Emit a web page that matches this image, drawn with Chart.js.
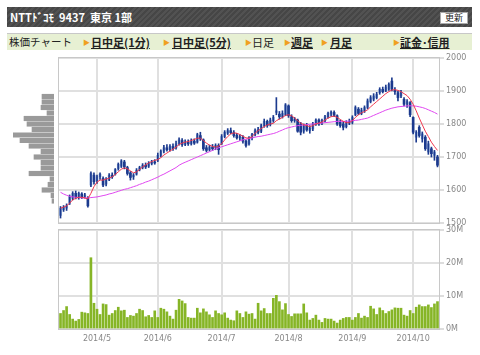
<!DOCTYPE html>
<html>
<head>
<meta charset="utf-8">
<script src="https://cdn.jsdelivr.net/npm/chart.js@4/dist/chart.umd.min.js"></script>
<style>
body { margin: 0; background: #fff; width: 480px; height: 355px; overflow: hidden; position: relative; font-family: "Noto Sans CJK JP", sans-serif; }
#head { position: absolute; left: 7px; top: 7px; width: 465px; height: 20px; background: repeating-linear-gradient(135deg, #464646 0 2px, #525252 2px 4px); color: #fff; font-size: 11px; font-weight: bold; line-height: 20px; }
#head .name { position: absolute; left: 3px; top: 0; }
#btn { position: absolute; left: 433px; top: 5px; width: 26px; height: 10px; background: #fff; color: #222; border: 1px solid #aaa; font-size: 9px; line-height: 10px; text-align: center; font-weight: normal; }
#tabs { position: absolute; left: 7px; top: 33px; width: 465px; height: 16px; background: #e7f0d3; border-top: 1px solid #c8c8c8; font-size: 11px; line-height: 16px; color: #222; }
.t { position: absolute; top: 0; white-space: nowrap; }
.t b { text-decoration: underline; }
.a { position: absolute; top: 0; color: #f0a020; font-size: 7px; }
canvas { position: absolute; left: 0; top: 0; }
</style>
</head>
<body>
<div id="head"><span class="name">NTTﾄﾞｺﾓ&nbsp; 9437&nbsp; 東京 1部</span><div id="btn">更新</div></div>
<div id="tabs">
  <span class="t" style="left:2px;font-size:10.5px">株価チャート</span>
  <span class="a" style="left:76px">▶</span><span class="t" style="left:84px"><b>日中足(1分)</b></span>
  <span class="a" style="left:156px">▶</span><span class="t" style="left:165px"><b>日中足(5分)</b></span>
  <span class="a" style="left:238px">▶</span><span class="t" style="left:245px">日足</span>
  <span class="a" style="left:277px">▶</span><span class="t" style="left:284px"><b>週足</b></span>
  <span class="a" style="left:314px">▶</span><span class="t" style="left:323px"><b>月足</b></span>
  <span class="a" style="left:386px">▶</span><span class="t" style="left:393px"><b>証金･信用</b></span>
</div>
<canvas id="vp" width="480" height="355"></canvas>
<canvas id="price" width="480" height="355"></canvas>
<canvas id="vol" width="480" height="355"></canvas>
<script>
// trading days, 2014/4/14 - 2014/10/14
const months = ['2014/4', '2014/5', '2014/6', '2014/7', '2014/8', '2014/9', '2014/10'];
const days = [
  [14, 15, 16, 17, 18, 21, 22, 23, 24, 25, 28, 30],
  [1, 2, 7, 8, 9, 12, 13, 14, 15, 16, 19, 20, 21, 22, 23, 26, 27, 28, 29, 30],
  [2, 3, 4, 5, 6, 9, 10, 11, 12, 13, 16, 17, 18, 19, 20, 23, 24, 25, 26, 27, 30],
  [1, 2, 3, 4, 7, 8, 9, 10, 11, 14, 15, 16, 17, 18, 22, 23, 24, 25, 28, 29, 30, 31],
  [1, 4, 5, 6, 7, 8, 11, 12, 13, 14, 15, 18, 19, 20, 21, 22, 25, 26, 27, 28, 29],
  [1, 2, 3, 4, 5, 8, 9, 10, 11, 12, 16, 17, 18, 19, 22, 24, 25, 26, 29, 30],
  [1, 2, 3, 6, 7, 8, 9, 10, 14],
];

const opens = [1523,1540,1545,1560,1575,1590,1578,1588,1580,1575,
  1615,1645,1628,1640,1635,1618,1632,1645,1648,1665,
  1672,1685,1668,1652,1640,1648,1662,1668,1675,1672,
  1680,1685,1690,1705,1718,1728,1722,1732,1728,1740,
  1750,1738,1745,1740,1748,1745,1765,1752,1728,1722,
  1730,1728,1735,1740,1762,1772,1780,1774,1766,1758,
  1760,1748,1740,1758,1768,1782,1778,1795,1808,1798,
  1810,1835,1830,1822,1828,1855,1822,1810,1812,1800,
  1778,1795,1780,1785,1800,1812,1802,1810,1822,1830,
  1835,1825,1805,1800,1792,1802,1805,1828,1845,1832,
  1840,1850,1868,1875,1880,1895,1905,1900,1905,1930,
  1902,1895,1885,1875,1860,1865,1820,1760,1790,1755,
  1760,1715,1725,1705,1700];
const highs = [1550,1553,1558,1585,1595,1597,1594,1592,1590,1580,
  1655,1652,1645,1652,1640,1638,1650,1652,1665,1682,
  1692,1690,1672,1656,1650,1665,1672,1680,1682,1686,
  1690,1692,1712,1722,1735,1738,1738,1740,1748,1758,
  1756,1752,1752,1755,1755,1772,1775,1755,1735,1736,
  1738,1740,1740,1768,1780,1786,1788,1780,1772,1768,
  1765,1752,1762,1772,1785,1790,1800,1815,1812,1818,
  1826,1880,1838,1840,1862,1858,1828,1820,1815,1805,
  1800,1802,1795,1805,1816,1816,1815,1826,1836,1840,
  1840,1828,1812,1808,1810,1815,1825,1855,1850,1848,
  1855,1876,1886,1892,1896,1910,1912,1918,1925,1940,
  1910,1900,1902,1880,1874,1868,1822,1780,1795,1776,
  1765,1748,1730,1720,1705];
const lows = [1515,1535,1538,1556,1570,1573,1572,1574,1575,1548,
  1610,1618,1620,1632,1610,1612,1628,1635,1645,1660,
  1668,1664,1645,1630,1632,1645,1658,1664,1665,1668,
  1676,1678,1686,1700,1712,1718,1718,1720,1724,1736,
  1732,1734,1735,1736,1738,1742,1750,1720,1715,1718,
  1720,1722,1708,1738,1758,1768,1770,1760,1754,1750,
  1742,1730,1736,1752,1764,1770,1774,1790,1790,1794,
  1805,1828,1815,1818,1825,1820,1805,1805,1775,1767,
  1772,1778,1772,1780,1796,1796,1798,1806,1818,1824,
  1822,1796,1790,1782,1788,1798,1800,1825,1828,1828,
  1835,1846,1864,1870,1876,1890,1894,1898,1902,1900,
  1890,1870,1880,1855,1850,1822,1770,1745,1760,1745,
  1720,1708,1700,1690,1670];
const closes = [1545,1548,1552,1580,1590,1578,1590,1578,1585,1552,
  1650,1625,1640,1648,1615,1632,1645,1640,1662,1678,
  1688,1670,1650,1638,1645,1660,1668,1675,1670,1680,
  1685,1682,1705,1718,1728,1722,1732,1726,1740,1752,
  1738,1745,1740,1748,1742,1768,1755,1725,1720,1730,
  1725,1735,1722,1762,1775,1780,1774,1765,1758,1762,
  1748,1735,1758,1768,1780,1775,1795,1808,1795,1812,
  1820,1840,1822,1832,1858,1825,1810,1815,1778,1775,
  1795,1782,1788,1800,1812,1800,1810,1822,1832,1836,
  1826,1800,1795,1790,1805,1808,1820,1850,1832,1842,
  1850,1870,1880,1885,1890,1905,1898,1912,1920,1905,
  1898,1880,1895,1860,1868,1828,1775,1775,1765,1770,
  1725,1740,1710,1715,1675];

// short (red) and long (magenta) moving averages as drawn
const maShort = [1545,1548,1552,1560,1570,1575,1578,1578,1576,1573,
  1590,1610,1624,1630,1630,1633,1636,1640,1647,1655,
  1663,1667,1664,1658,1652,1655,1662,1670,1676,1682,
  1686,1690,1692,1698,1706,1712,1718,1724,1730,1738,
  1742,1745,1747,1750,1753,1757,1757,1750,1742,1736,
  1732,1730,1733,1740,1752,1762,1770,1773,1772,1768,
  1763,1758,1757,1762,1772,1780,1786,1792,1797,1800,
  1802,1810,1815,1820,1826,1828,1825,1818,1810,1803,
  1798,1795,1792,1795,1800,1803,1806,1812,1818,1822,
  1824,1820,1814,1808,1804,1804,1810,1820,1828,1834,
  1838,1843,1852,1860,1868,1876,1884,1892,1898,1903,
  1904,1902,1898,1892,1886,1875,1860,1840,1818,1798,
  1778,1762,1745,1732,1720];
const maLong = [1593,1588,1584,1581,1579,1578,1577,1576,1576,1576,
  1577,1578,1579,1581,1583,1585,1588,1590,1593,1596,
  1599,1602,1604,1607,1610,1613,1617,1620,1624,1627,
  1631,1635,1639,1644,1648,1653,1658,1663,1668,1675,
  1680,1684,1688,1692,1696,1700,1704,1708,1712,1716,
  1720,1724,1728,1731,1734,1737,1740,1743,1746,1749,
  1752,1754,1756,1758,1760,1762,1763,1765,1767,1769,
  1771,1774,1778,1782,1786,1789,1791,1793,1795,1796,
  1797,1798,1799,1800,1801,1802,1803,1804,1805,1806,
  1807,1808,1808,1808,1808,1809,1810,1811,1812,1814,
  1816,1818,1822,1826,1830,1834,1838,1842,1845,1848,
  1850,1852,1853,1854,1855,1855,1855,1854,1852,1850,
  1847,1843,1839,1835,1830];

// volume, millions of shares
const volumes = [4.7,5.6,6.8,4.4,3.0,2.4,2.9,5.1,4.9,4.7,
  21.6,7.8,6.0,4.4,7.6,7.4,4.2,4.7,5.6,6.6,
  5.5,5.7,3.5,4.1,3.9,4.7,6.0,5.6,3.7,4.1,
  3.5,5.5,3.5,6.3,6.0,5.2,3.9,3.0,5.7,9.0,
  8.5,7.7,3.5,3.3,3.3,6.3,4.9,6.1,5.2,4.3,
  3.5,5.5,4.7,4.3,4.9,3.3,2.7,2.5,5.5,4.7,
  3.5,5.2,4.5,4.7,3.0,7.8,5.5,6.2,4.7,4.7,
  9.3,10.2,8.3,5.8,7.7,4.4,3.8,4.6,4.6,4.6,
  7.6,4.9,2.7,3.2,4.2,2.7,2.0,3.2,3.0,3.0,
  2.4,1.8,2.7,3.2,3.5,3.5,2.7,3.5,4.7,3.3,
  3.9,3.5,6.9,6.1,4.4,6.4,5.6,4.7,5.3,5.8,
  6.4,6.3,6.3,4.2,3.9,5.6,4.7,6.6,7.3,6.8,
  6.8,7.3,6.5,7.6,8.3];

// volume by price band (left histogram)
const vpPrices = [1910,1890,1870,1850,1830,1810,1790,1770,1750,1730,1710,1690,1670,1650,1630,1610,1590,1570,1550,1530];
const vpVolumes = [12,12,13,7,30,27,22,41,34,25,13,20,13,13,25,4,6,12,3,2];

const priceTicks = [1500, 1600, 1700, 1800, 1900, 2000];
const volTicks = [0, 10, 20, 30];

// build labels
const labels = [];
const monthStart = [];
months.forEach((m, k) => {
  days[k].forEach((d, j) => {
    labels.push(m + '/' + d);
    monthStart.push(j === 0 && k > 0 ? m : '');
  });
});

const wicks = lows.map((l, i) => [l, highs[i]]);
const bodies = opens.map((o, i) => [Math.min(o, closes[i]), Math.max(o, closes[i])]);
const bodyFill = opens.map((o, i) => closes[i] >= o ? '#7f9ed4' : '#1c3a8e');

const gridColor = '#e0e0e0';
const tickFont = {family: 'DejaVu Sans', size: 8};
const tickColor = '#888';

const frame = {
  id: 'frame',
  beforeDatasetsDraw(chart) {
    const a = chart.chartArea;
    const g = chart.ctx;
    g.save();
    g.strokeStyle = '#c8c8c8';
    g.lineWidth = 1;
    g.strokeRect(a.left - 0.5, a.top - 0.5, a.width + 1, a.height + 1);
    g.restore();
  },
};

const monthGrid = {
  offset: false,
  drawTicks: false,
  lineWidth: 2,
  color: (c) => monthStart[c.index] ? gridColor : 'rgba(0,0,0,0)',
};

new Chart(document.getElementById('price'), {
  type: 'bar',
  data: {
    labels,
    datasets: [
      {type: 'line', data: maShort, borderColor: '#f0384e', borderWidth: 1, pointRadius: 0},
      {type: 'line', data: maLong, borderColor: '#e048f0', borderWidth: 1, pointRadius: 0},
      {data: wicks, backgroundColor: '#1c3a8e', barThickness: 1, grouped: false},
      {data: bodies, backgroundColor: bodyFill, barThickness: 2, grouped: false, minBarLength: 1},
    ],
  },
  options: {
    responsive: false,
    animation: false,
    layout: {padding: {left: 59, top: 58, bottom: 132, right: 0}},
    plugins: {legend: {display: false}, tooltip: {enabled: false}},
    scales: {
      x: {
        ticks: {display: false, autoSkip: false},
        grid: monthGrid,
        border: {display: false},
        afterFit: (s) => { s.height = 0; },
      },
      y: {
        position: 'right',
        min: 1500,
        max: 2000,
        afterBuildTicks: (s) => { s.ticks = priceTicks.map((v) => ({value: v})); },
        ticks: {font: tickFont, color: tickColor, padding: 2, callback: (v) => String(v)},
        grid: {color: gridColor, lineWidth: 2, tickLength: 5, tickColor: '#bbb', tickWidth: 1},
        border: {display: false},
        afterFit: (s) => { s.width = 41; },
      },
    },
  },
  plugins: [frame],
});

new Chart(document.getElementById('vol'), {
  type: 'bar',
  data: {
    labels,
    datasets: [
      {data: volumes, backgroundColor: '#86b526', barThickness: 2},
    ],
  },
  options: {
    responsive: false,
    animation: false,
    layout: {padding: {left: 59, top: 230, bottom: 0, right: 0}},
    plugins: {legend: {display: false}, tooltip: {enabled: false}},
    scales: {
      x: {
        ticks: {
          autoSkip: false,
          maxRotation: 0,
          font: tickFont,
          color: tickColor,
          padding: 5,
          callback: (v, i) => monthStart[i],
        },
        grid: monthGrid,
        border: {display: false},
        afterFit: (s) => { s.height = 26; },
      },
      y: {
        position: 'right',
        min: 0,
        max: 30,
        afterBuildTicks: (s) => { s.ticks = volTicks.map((v) => ({value: v})); },
        ticks: {font: tickFont, color: tickColor, padding: 2, callback: (v) => v + 'M'},
        grid: {color: gridColor, lineWidth: 2, tickLength: 5, tickColor: '#bbb', tickWidth: 1},
        border: {display: false},
        afterFit: (s) => { s.width = 41; },
      },
    },
  },
  plugins: [frame],
});

new Chart(document.getElementById('vp'), {
  type: 'bar',
  data: {
    datasets: [{
      data: vpPrices.map((p, i) => ({x: vpVolumes[i], y: p})),
      backgroundColor: '#9a9a9a',
      borderWidth: 0,
      barThickness: 4.5,
    }],
  },
  options: {
    indexAxis: 'y',
    responsive: false,
    animation: false,
    layout: {padding: {left: 13, top: 58, bottom: 132, right: 426}},
    plugins: {legend: {display: false}, tooltip: {enabled: false}},
    scales: {
      x: {type: 'linear', min: 0, max: 41, reverse: true, display: false},
      y: {type: 'linear', min: 1500, max: 2000, display: false},
    },
  },
});
</script>
</body>
</html>
